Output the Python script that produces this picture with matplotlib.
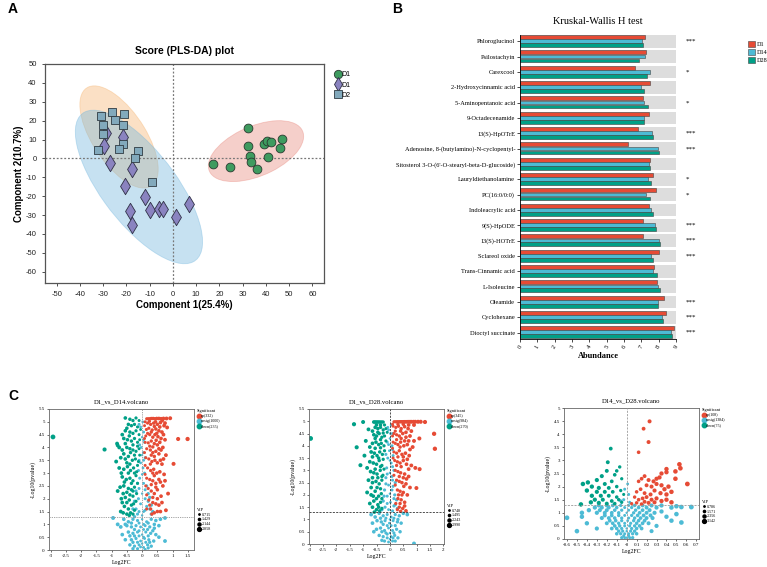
import numpy as np
import matplotlib
matplotlib.use('Agg')
import matplotlib.pyplot as plt
from matplotlib.patches import Ellipse, Patch
from matplotlib.lines import Line2D
from matplotlib.transforms import Bbox

plt.rcParams['axes.unicode_minus'] = False

# ---------------- panel A data (PLS-DA scores) ----------------
d1_x = [32.1, 32.1, 17.1, 24.6, 33.3, 33.7, 36.0, 39.3, 40.6, 42.0, 46.9, 46.0, 41.0]
d1_y = [16.1, 6.4, -3.0, -4.6, 1.4, -1.9, -5.7, 7.6, 9.0, 8.5, 10.1, 5.7, 0.5]
d14_x = [-28.9, -29.7, -21.4, -26.9, -17.4, -20.4, -11.9, -18.6, -9.7, -6.0, -4.3, -17.4, 1.4, 6.9]
d14_y = [13.3, 6.4, 11.3, -2.3, -5.7, -14.8, -20.5, -28.1, -27.4, -26.7, -26.7, -35.5, -31.1, -24.0]
d28_x = [-30.7, -26.0, -21.1, -24.7, -30.1, -21.4, -30.0, -21.4, -32.1, -23.3, -15.0, -16.4, -8.9]
d28_y = [22.4, 24.4, 23.7, 20.3, 17.8, 17.5, 12.9, 7.8, 4.6, 4.8, 4.1, 0.0, -12.7]
groups = ['D1', 'D14', 'D28']

# ---------------- panel B data (Kruskal-Wallis) ----------------
metabolites = ['Phloroglucinol', 'Psilostachyin', 'Carexcool', '2-Hydroxycinnamic acid',
               '5-Aminopentanoic acid', '9-Octadecenamide', '13(S)-HpOTrE',
               'Adenosine, 8-(butylamino)-N-cyclopentyl-',
               "Sitosterol 3-O-(6'-O-stearyl-beta-D-glucoside)", 'Lauryldiethanolamine',
               'PC(16:0/0:0)', 'Indoleacrylic acid', '9(S)-HpODE', '13(S)-HOTrE',
               'Sclareol oxide', 'Trans-Cinnamic acid', 'L-Isoleucine', 'Oleamide',
               'Cyclohexane', 'Dioctyl succinate']
abund_d1 = [7.23, 7.26, 6.63, 7.50, 7.09, 7.46, 6.80, 6.22, 7.51, 7.67, 7.84, 7.46, 7.09,
            7.09, 8.02, 7.75, 7.90, 8.30, 8.42, 8.86]
abund_d14 = [7.03, 7.21, 7.50, 6.96, 7.15, 7.15, 7.61, 7.96, 7.44, 7.38, 7.26, 7.53, 7.78,
             8.02, 7.57, 7.69, 7.96, 7.94, 8.19, 8.69]
abund_d28 = [7.11, 6.88, 7.32, 7.15, 7.40, 7.15, 7.67, 8.02, 7.50, 7.53, 7.51, 7.67, 7.84,
             8.09, 7.65, 7.92, 8.05, 7.94, 8.25, 8.77]
signif = ['***', '', '*', '', '*', '', '***', '***', '', '*', '*', '', '***', '***', '***',
          '', '', '***', '***', '***']

# ---------------- panel C data (volcano plots, (log2FC, -log10 p)) ----------------
v1_up = [(0.15, 5.12), (0.2, 5.12), (0.25, 5.12), (0.3, 5.13), (0.36, 5.13), (0.42, 5.12),
         (0.48, 5.13), (0.55, 5.13), (0.62, 5.12), (0.7, 5.13), (0.8, 5.13), (0.92, 5.14),
         (0.18, 4.95), (0.28, 4.9), (0.38, 4.95), (0.5, 4.9), (0.6, 4.97), (0.72, 4.85),
         (0.82, 4.78), (0.14, 4.7), (0.22, 4.75), (0.33, 4.68), (0.45, 4.72), (0.55, 4.65),
         (0.65, 4.6), (0.12, 4.45), (0.25, 4.5), (0.35, 4.4), (0.42, 4.5), (0.52, 4.42),
         (0.62, 4.35), (0.75, 4.3), (1.18, 4.33), (1.49, 4.33), (0.1, 4.2), (0.2, 4.18),
         (0.3, 4.25), (0.4, 4.15), (0.5, 4.1), (0.58, 4.2), (0.68, 4.0), (0.15, 3.95),
         (0.27, 3.9), (0.35, 3.8), (0.45, 3.85), (0.55, 3.75), (0.62, 3.9), (0.78, 3.7),
         (0.12, 3.6), (0.22, 3.55), (0.32, 3.45), (0.42, 3.5), (0.5, 3.4), (0.65, 3.35),
         (1.03, 3.36), (0.18, 3.2), (0.28, 3.1), (0.38, 3.15), (0.48, 3.0), (0.58, 3.05),
         (0.72, 2.95), (0.15, 2.8), (0.25, 2.75), (0.35, 2.7), (0.45, 2.6), (0.55, 2.75),
         (0.68, 2.5), (0.2, 2.4), (0.3, 2.3), (0.4, 2.2), (0.5, 2.35), (0.62, 2.1),
         (0.85, 2.2), (0.22, 1.95), (0.35, 1.85), (0.45, 1.8), (0.55, 1.75), (0.78, 1.55),
         (0.28, 1.6), (0.4, 1.45), (0.5, 1.5),
         (0.1, 5.0), (0.24, 5.02), (0.44, 5.0), (0.66, 5.05), (0.75, 4.95), (0.08, 4.85),
         (0.4, 4.82), (0.58, 4.8), (0.3, 4.6), (0.48, 4.55), (0.18, 4.55), (0.7, 4.5),
         (0.08, 4.35), (0.46, 4.28), (0.25, 4.05), (0.35, 4.02), (0.55, 3.95), (0.08, 3.8),
         (0.3, 3.7), (0.4, 3.65), (0.7, 3.55), (0.27, 3.35), (0.6, 3.5), (0.1, 3.3),
         (0.35, 3.0), (0.1, 2.95), (0.4, 2.9), (0.3, 2.55), (0.6, 2.65), (0.12, 2.5),
         (0.45, 2.45), (0.75, 2.7), (0.35, 2.05), (0.15, 2.15), (0.5, 2.0), (0.25, 1.75),
         (0.65, 1.85), (0.15, 1.6), (0.32, 1.4), (0.6, 1.5)]
v1_down = [(-2.92, 4.41), (-1.23, 3.92), (-0.82, 4.15), (-0.8, 4.08), (-0.55, 5.15), (-0.2, 5.15),
           (-0.3, 5.05), (-0.45, 4.9), (-0.35, 4.85), (-0.25, 4.9), (-0.15, 4.8), (-0.55, 4.65),
           (-0.4, 4.6), (-0.3, 4.55), (-0.2, 4.65), (-0.1, 4.5), (-0.6, 4.35), (-0.48, 4.3),
           (-0.35, 4.25), (-0.25, 4.35), (-0.15, 4.2), (-0.65, 3.9), (-0.5, 4.0), (-0.4, 3.95),
           (-0.3, 3.9), (-0.2, 3.85), (-0.1, 3.95), (-0.7, 3.6), (-0.55, 3.55), (-0.45, 3.65),
           (-0.32, 3.5), (-0.22, 3.55), (-0.12, 3.45), (-0.75, 3.2), (-0.6, 3.15), (-0.48, 3.25),
           (-0.38, 3.1), (-0.28, 3.2), (-0.18, 3.05), (-0.65, 2.85), (-0.52, 2.75), (-0.4, 2.8),
           (-0.3, 2.7), (-0.2, 2.9), (-0.72, 2.45), (-0.6, 2.5), (-0.45, 2.4), (-0.35, 2.35),
           (-0.25, 2.45), (-0.68, 2.0), (-0.55, 2.05), (-0.42, 1.95), (-0.3, 2.1), (-0.2, 1.9),
           (-0.58, 1.7), (-0.45, 1.6), (-0.35, 1.75), (-0.25, 1.55), (-0.5, 1.4), (-0.38, 1.45),
           (-0.4, 5.1), (-0.1, 5.05), (-0.5, 4.75), (-0.05, 4.7), (-0.65, 4.5), (-0.42, 4.45),
           (-0.08, 4.3), (-0.3, 4.1), (-0.55, 4.15), (-0.75, 4.0), (-0.15, 4.05), (-0.6, 3.75),
           (-0.38, 3.8), (-0.25, 3.7), (-0.08, 3.7), (-0.85, 3.45), (-0.5, 3.4), (-0.4, 3.35),
           (-0.15, 3.3), (-0.68, 3.0), (-0.45, 3.0), (-0.25, 3.0), (-0.58, 2.65), (-0.35, 2.6),
           (-0.15, 2.6), (-0.8, 2.3), (-0.5, 2.25), (-0.3, 2.3), (-0.62, 2.2), (-0.4, 2.15),
           (-0.18, 2.2), (-0.65, 1.85), (-0.5, 1.85), (-0.28, 1.8), (-0.7, 1.5), (-0.42, 1.35),
           (-0.3, 1.4), (-0.62, 1.45)]
v1_nosig = [(0.02, 5.0), (-0.05, 4.8), (0.05, 4.6), (0.0, 4.4), (0.08, 4.2), (-0.03, 4.0),
            (0.04, 3.8), (0.1, 3.6), (-0.05, 3.4), (0.03, 3.2), (0.08, 3.0), (-0.08, 2.8),
            (0.05, 2.6), (0.15, 2.5), (-0.1, 2.4), (0.2, 2.2), (0.0, 2.2), (-0.12, 2.0),
            (0.1, 2.0), (0.2, 1.9), (-0.05, 1.8), (0.15, 1.7), (-0.2, 1.6), (0.25, 1.6),
            (0.05, 1.5), (-0.15, 1.4), (0.3, 1.4), (0.0, 1.35), (-0.95, 1.25), (-0.8, 1.0),
            (-0.6, 1.2), (-0.45, 1.1), (-0.3, 1.2), (-0.15, 1.15), (0.0, 1.2), (0.15, 1.1),
            (0.3, 1.2), (0.45, 1.15), (0.6, 1.2), (0.75, 1.25), (-0.7, 0.9), (-0.5, 0.95),
            (-0.35, 0.9), (-0.2, 0.95), (-0.05, 0.9), (0.1, 0.95), (0.25, 0.9), (0.4, 0.85),
            (0.55, 0.95), (-0.65, 0.6), (-0.45, 0.7), (-0.3, 0.65), (-0.15, 0.7), (0.0, 0.6),
            (0.12, 0.7), (0.28, 0.65), (0.45, 0.6), (-0.55, 0.4), (-0.35, 0.4), (-0.2, 0.45),
            (-0.05, 0.35), (0.08, 0.45), (0.22, 0.4), (0.38, 0.35), (0.75, 0.35), (-0.4, 0.2),
            (-0.25, 0.15), (-0.1, 0.2), (0.05, 0.1), (0.18, 0.2), (0.3, 0.15), (-0.15, 0.05),
            (0.1, 0.02), (-0.25, 1.3),
            (-0.1, 4.9), (0.05, 4.3), (-0.08, 4.1), (0.0, 3.7), (-0.1, 3.5), (0.05, 3.5),
            (-0.12, 3.1), (0.0, 2.95), (-0.15, 2.6), (0.1, 2.35), (-0.2, 2.3), (0.25, 2.05),
            (-0.25, 1.9), (0.3, 1.75), (-0.3, 1.6), (0.1, 1.55), (-0.1, 1.5), (0.35, 1.5),
            (-0.35, 1.05), (-0.1, 1.05), (0.05, 1.0), (0.2, 1.05), (-0.25, 0.8), (-0.1, 0.75),
            (0.05, 0.8), (0.18, 0.8), (0.35, 0.75), (-0.4, 0.55), (-0.25, 0.55), (-0.1, 0.55),
            (0.05, 0.5), (0.2, 0.55), (-0.3, 0.3), (-0.15, 0.3), (0.0, 0.25), (0.12, 0.3),
            (0.25, 0.3), (-0.05, 0.12), (0.2, 0.08), (-0.3, 0.05), (0.4, 1.0), (0.55, 0.5),
            (-0.55, 1.0)]

v2_up = [(0.15, 4.98), (0.2, 4.98), (0.25, 4.98), (0.3, 4.98), (0.35, 4.98), (0.4, 4.98),
         (0.45, 4.98), (0.5, 4.98), (0.55, 4.98), (0.6, 4.98), (0.65, 4.98), (0.7, 4.98),
         (0.75, 4.98), (0.8, 4.98), (0.88, 4.98), (0.95, 4.98), (1.05, 4.98), (1.15, 4.98),
         (1.31, 4.97), (0.12, 4.8), (0.22, 4.75), (0.32, 4.8), (0.42, 4.7), (0.55, 4.78),
         (0.68, 4.7), (0.8, 4.6), (1.1, 4.3), (1.65, 4.49), (0.15, 4.5), (0.25, 4.45),
         (0.35, 4.4), (0.48, 4.5), (0.6, 4.35), (0.75, 4.4), (0.9, 4.2), (0.12, 4.15),
         (0.2, 4.1), (0.3, 4.05), (0.4, 4.15), (0.52, 4.0), (0.65, 4.05), (0.85, 3.95),
         (1.68, 3.88), (0.15, 3.75), (0.25, 3.7), (0.35, 3.8), (0.45, 3.65), (0.58, 3.7),
         (0.72, 3.6), (0.18, 3.4), (0.28, 3.35), (0.38, 3.3), (0.5, 3.4), (0.62, 3.25),
         (0.8, 3.2), (1.11, 3.05), (0.95, 3.1), (0.2, 3.0), (0.3, 2.95), (0.4, 2.9),
         (0.55, 2.85), (0.7, 2.75), (0.25, 2.6), (0.35, 2.55), (0.45, 2.5), (0.6, 2.45),
         (0.99, 2.28), (0.28, 2.2), (0.38, 2.15), (0.5, 2.1), (0.65, 2.0), (0.3, 1.85),
         (0.42, 1.8), (0.55, 1.7), (0.35, 1.5), (0.48, 1.45), (0.6, 1.35), (0.4, 1.33),
         (0.1, 4.88), (0.3, 4.88), (0.5, 4.88), (0.7, 4.85), (0.9, 4.85), (0.2, 4.6),
         (0.4, 4.6), (0.6, 4.55), (0.1, 4.4), (0.42, 4.3), (0.7, 4.2), (0.25, 4.25),
         (0.55, 4.2), (0.1, 3.9), (0.38, 3.95), (0.75, 3.85), (0.3, 3.55), (0.5, 3.55),
         (0.65, 3.45), (0.12, 3.5), (0.42, 3.15), (0.25, 3.2), (0.7, 3.05), (0.15, 2.8),
         (0.5, 2.7), (0.62, 2.65), (0.35, 2.75), (0.2, 2.4), (0.52, 2.35), (0.75, 2.3),
         (0.32, 2.0), (0.45, 2.0), (0.22, 1.65), (0.55, 1.55), (0.38, 1.65), (0.28, 1.4)]
v2_down = [(-2.96, 4.3), (-1.34, 4.88), (-1.0, 4.97), (-1.24, 3.94), (-1.1, 3.21), (-0.8, 4.67),
           (-0.6, 4.97), (-0.55, 4.97), (-0.5, 4.97), (-0.45, 4.97), (-0.4, 4.97), (-0.35, 4.97),
           (-0.3, 4.97), (-0.25, 4.97), (-0.55, 4.75), (-0.45, 4.7), (-0.35, 4.75), (-0.25, 4.65),
           (-0.15, 4.7), (-0.6, 4.45), (-0.5, 4.4), (-0.4, 4.5), (-0.3, 4.35), (-0.2, 4.4),
           (-0.9, 4.2), (-0.65, 4.1), (-0.52, 4.15), (-0.42, 4.05), (-0.32, 4.1), (-0.22, 4.0),
           (-0.95, 3.6), (-0.7, 3.75), (-0.58, 3.7), (-0.48, 3.6), (-0.38, 3.75), (-0.28, 3.65),
           (-0.75, 3.35), (-0.62, 3.3), (-0.5, 3.25), (-0.4, 3.4), (-0.3, 3.2), (-0.72, 2.95),
           (-0.6, 2.9), (-0.48, 2.85), (-0.36, 3.0), (-0.26, 2.8), (-0.8, 2.6), (-0.65, 2.5),
           (-0.52, 2.55), (-0.4, 2.45), (-0.3, 2.6), (-0.85, 2.1), (-0.7, 2.0), (-0.55, 2.15),
           (-0.42, 1.95), (-0.32, 2.05), (-0.75, 1.65), (-0.6, 1.75), (-0.45, 1.6), (-0.35, 1.7),
           (-0.5, 1.4), (-0.38, 1.35), (-0.58, 1.3),
           (-0.5, 4.85), (-0.35, 4.85), (-0.2, 4.85), (-0.65, 4.6), (-0.45, 4.55), (-0.25, 4.52),
           (-0.1, 4.55), (-0.55, 4.3), (-0.35, 4.25), (-0.15, 4.2), (-0.75, 3.95), (-0.55, 3.9),
           (-0.35, 3.92), (-0.2, 3.8), (-0.65, 3.55), (-0.42, 3.5), (-0.25, 3.45), (-0.85, 3.1),
           (-0.55, 3.05), (-0.35, 3.15), (-0.22, 3.05), (-0.65, 2.7), (-0.45, 2.7), (-0.3, 2.75),
           (-0.7, 2.3), (-0.48, 2.3), (-0.35, 2.25), (-0.62, 1.95), (-0.5, 1.85), (-0.3, 1.85),
           (-0.65, 1.5), (-0.42, 1.5), (-0.3, 1.45)]
v2_nosig = [(0.05, 4.85), (-0.05, 4.65), (0.1, 4.5), (0.0, 4.3), (-0.1, 4.15), (0.08, 4.0),
            (-0.02, 3.8), (0.12, 3.6), (-0.08, 3.5), (0.05, 3.3), (-0.12, 3.1), (0.15, 3.0),
            (0.0, 2.9), (-0.15, 2.7), (0.1, 2.6), (0.2, 2.5), (-0.05, 2.4), (-0.2, 2.2),
            (0.08, 2.2), (0.18, 2.0), (-0.1, 1.95), (0.25, 1.8), (-0.25, 1.75), (0.02, 1.7),
            (0.15, 1.55), (-0.18, 1.5), (0.28, 1.45), (-0.05, 1.4), (-0.7, 1.2), (-0.55, 1.1),
            (-0.4, 1.25), (-0.25, 1.15), (-0.1, 1.2), (0.05, 1.1), (0.2, 1.2), (0.35, 1.15),
            (0.5, 1.25), (0.65, 1.2), (-0.65, 0.85), (-0.48, 0.95), (-0.32, 0.9), (-0.18, 0.95),
            (-0.02, 0.85), (0.12, 0.95), (0.28, 0.9), (0.42, 0.85), (-0.5, 0.6), (-0.35, 0.65),
            (-0.2, 0.55), (-0.05, 0.65), (0.1, 0.55), (0.25, 0.6), (0.38, 0.5), (-0.4, 0.35),
            (-0.25, 0.3), (-0.1, 0.4), (0.05, 0.3), (0.18, 0.35), (0.3, 0.25), (-0.2, 0.12),
            (-0.05, 0.08), (0.1, 0.12), (0.9, 0.02),
            (-0.08, 4.75), (0.02, 4.5), (-0.05, 4.05), (0.1, 3.85), (-0.15, 3.65), (0.0, 3.4),
            (0.1, 3.15), (-0.1, 2.85), (0.08, 2.75), (-0.15, 2.45), (0.12, 2.35), (0.0, 2.05),
            (-0.22, 1.95), (0.15, 1.85), (-0.1, 1.65), (0.2, 1.6), (-0.3, 1.4), (0.1, 1.35),
            (-0.35, 1.05), (-0.15, 1.05), (0.0, 1.0), (0.15, 1.05), (0.3, 1.0), (-0.25, 0.8),
            (-0.1, 0.75), (0.05, 0.75), (0.2, 0.75), (-0.3, 0.5), (-0.15, 0.45), (0.0, 0.45),
            (0.15, 0.45), (-0.1, 0.25), (0.0, 0.2), (0.12, 0.25), (-0.3, 0.15), (0.2, 0.12),
            (-0.6, 0.5)]

v3_up = [(0.23, 4.49), (0.17, 4.21), (0.22, 3.70), (0.12, 3.31), (0.49, 2.58), (0.53, 2.85),
         (0.54, 2.7), (0.4, 2.67), (0.4, 2.55), (0.49, 2.3), (0.61, 2.1), (0.35, 2.5),
         (0.33, 2.35), (0.3, 2.3), (0.27, 2.2), (0.22, 2.25), (0.18, 2.4), (0.15, 2.3),
         (0.12, 2.2), (0.2, 2.05), (0.25, 2.0), (0.3, 2.1), (0.35, 2.05), (0.38, 1.9),
         (0.42, 2.0), (0.45, 1.8), (0.4, 1.7), (0.34, 1.75), (0.28, 1.85), (0.24, 1.7),
         (0.18, 1.75), (0.14, 1.9), (0.1, 1.8), (0.08, 1.6), (0.12, 1.5), (0.16, 1.55),
         (0.2, 1.6), (0.25, 1.5), (0.3, 1.55), (0.35, 1.45), (0.28, 1.4), (0.22, 1.38),
         (0.18, 1.42), (0.1, 1.38), (0.05, 1.35), (0.15, 1.33), (0.4, 1.5), (0.45, 1.4)]
v3_down = [(-0.16, 3.45), (-0.19, 2.93), (-0.39, 2.16), (-0.44, 2.1), (-0.25, 2.4), (-0.07, 2.75),
           (-0.46, 1.32), (-0.1, 2.6), (-0.2, 2.6), (-0.12, 2.45), (-0.3, 2.25), (-0.15, 2.2),
           (-0.05, 2.3), (-0.22, 2.1), (-0.35, 2.0), (-0.28, 1.95), (-0.18, 1.95), (-0.1, 2.0),
           (-0.4, 1.85), (-0.3, 1.8), (-0.22, 1.8), (-0.14, 1.8), (-0.06, 1.85), (-0.35, 1.65),
           (-0.26, 1.65), (-0.18, 1.65), (-0.1, 1.6), (-0.03, 1.7), (-0.32, 1.5), (-0.24, 1.5),
           (-0.15, 1.45), (-0.08, 1.5), (-0.28, 1.38), (-0.2, 1.35), (-0.12, 1.35), (-0.05, 1.4),
           (-0.36, 1.4)]
v3_nosig = [(-0.05, 0.05), (-0.02, 0.05), (0.0, 0.05), (0.03, 0.05), (0.06, 0.05),
            (-0.1, 0.2), (-0.06, 0.2), (-0.02, 0.2), (0.02, 0.2), (0.06, 0.2), (0.1, 0.2),
            (-0.15, 0.4), (-0.1, 0.4), (-0.05, 0.4), (0.0, 0.4), (0.05, 0.4), (0.1, 0.4), (0.15, 0.4),
            (-0.2, 0.6), (-0.14, 0.6), (-0.08, 0.6), (-0.02, 0.6), (0.04, 0.6), (0.1, 0.6),
            (0.16, 0.6), (0.22, 0.6), (-0.25, 0.8), (-0.18, 0.8), (-0.12, 0.8), (-0.05, 0.8),
            (0.02, 0.8), (0.08, 0.8), (0.14, 0.8), (0.2, 0.8), (0.26, 0.8), (-0.3, 1.0),
            (-0.22, 1.0), (-0.15, 1.0), (-0.08, 1.0), (0.0, 1.0), (0.07, 1.0), (0.13, 1.0),
            (0.2, 1.0), (0.28, 1.0), (-0.32, 1.2), (-0.25, 1.2), (-0.18, 1.2), (-0.1, 1.2),
            (-0.02, 1.2), (0.05, 1.2), (0.12, 1.2), (0.2, 1.2), (0.3, 1.2), (-0.03, 1.5),
            (0.02, 1.7), (-0.02, 1.9), (0.01, 2.1), (0.03, 1.4), (-0.06, 1.45), (-0.6, 0.81),
            (-0.5, 0.3), (-0.45, 1.0), (-0.45, 0.85), (-0.4, 0.6), (-0.38, 1.1), (-0.3, 0.4),
            (0.65, 1.22), (0.55, 1.22), (0.5, 1.25), (0.5, 0.95), (0.55, 0.63), (0.45, 0.7),
            (0.35, 1.05), (0.4, 0.85), (0.3, 0.5), (0.25, 0.3), (0.45, 1.2),
            (-0.03, 0.12), (0.02, 0.12), (-0.08, 0.3), (-0.04, 0.3), (0.0, 0.3), (0.04, 0.3),
            (0.08, 0.3), (-0.12, 0.5), (-0.07, 0.5), (-0.02, 0.5), (0.03, 0.5), (0.08, 0.5),
            (0.13, 0.5), (-0.17, 0.7), (-0.11, 0.7), (-0.05, 0.7), (0.01, 0.7), (0.07, 0.7),
            (0.12, 0.7), (0.18, 0.7), (-0.22, 0.9), (-0.15, 0.9), (-0.08, 0.9), (-0.02, 0.9),
            (0.05, 0.9), (0.11, 0.9), (0.17, 0.9), (0.24, 0.9), (-0.27, 1.1), (-0.2, 1.1),
            (-0.12, 1.1), (-0.05, 1.1), (0.02, 1.1), (0.09, 1.1), (0.16, 1.1), (0.23, 1.1),
            (-0.28, 1.28), (-0.2, 1.28), (-0.14, 1.28), (-0.06, 1.28), (0.02, 1.28), (0.08, 1.28),
            (0.16, 1.28), (0.25, 1.28), (0.35, 1.28)]

v1_sig_labels = ['up(332)', 'nosig(1000)', 'down(235)']
v2_sig_labels = ['up(345)', 'nosig(984)', 'down(270)']
v3_sig_labels = ['up(108)', 'nosig(1384)', 'down(75)']
v1_vip = ['0.715', '1.429', '2.144', '2.858']
v2_vip = ['0.748', '1.495', '2.243', '2.990']
v3_vip = ['0.786', '1.571', '2.356', '3.142']

RED, BLUE, GREEN = '#E64B35', '#4DBBD5', '#00A087'

fig = plt.figure(figsize=(7.67, 5.67), dpi=100)
W, H = 767, 567


def px_rect(l, t, r, b):
    return [l / W, 1 - b / H, (r - l) / W, (b - t) / H]


# ================= A =================
sans = 'Liberation Sans'
axA = fig.add_axes(px_rect(45, 64, 324, 283))


def conf_ellipse(ax, x, y, color):
    # 95% confidence ellipse of each group
    cov = np.cov(x, y)
    vals, vecs = np.linalg.eigh(cov)
    order = vals.argsort()[::-1]
    vals, vecs = vals[order], vecs[:, order]
    ang = np.degrees(np.arctan2(vecs[1, 0], vecs[0, 0]))
    k = 2.448
    ax.add_patch(Ellipse((np.mean(x), np.mean(y)), 2 * k * np.sqrt(vals[0]),
                         2 * k * np.sqrt(vals[1]), angle=ang, facecolor=color,
                         edgecolor=color, alpha=0.4, lw=0.6, zorder=1))


conf_ellipse(axA, d28_x, d28_y, '#F6B36E')
conf_ellipse(axA, d14_x, d14_y, '#72B6DE')
conf_ellipse(axA, d1_x, d1_y, '#E8877C')
axA.axvline(0, color='#777777', ls=(0, (1.5, 1.5)), lw=0.9, zorder=2)
axA.axhline(0, color='#777777', ls=(0, (1.5, 1.5)), lw=0.9, zorder=2)
styles = [('o', 40, '#3E9B5F', '#2A3A30'), ('d', 70, '#8A83C0', '#2F2F45'), ('s', 40, '#82A9BC', '#2F3A42')]
for (xs, ys), (mk, sz, fc, ec), g in zip([(d1_x, d1_y), (d14_x, d14_y), (d28_x, d28_y)], styles, groups):
    axA.scatter(xs, ys, s=sz, marker=mk, color=fc, edgecolor=ec, lw=0.6, zorder=3, label=g)
axA.set_xlim(-55, 65)
axA.set_ylim(-66, 50)
axA.set_xticks(np.arange(-50, 61, 10))
axA.set_yticks(np.arange(-60, 51, 10))
axA.tick_params(labelsize=5.5, length=2.5, width=0.6, colors='#333333', labelcolor='#222222')
for lab in axA.get_xticklabels() + axA.get_yticklabels():
    lab.set_family(sans)
for sp in axA.spines.values():
    sp.set_color('#555555')
    sp.set_linewidth(0.9)
axA.set_title('Score (PLS-DA) plot', fontsize=7.5, fontweight='bold', family=sans, pad=7)
axA.set_xlabel('Component 1(25.4%)', fontsize=7, fontweight='bold', family=sans, labelpad=1)
axA.set_ylabel('Component 2(10.7%)', fontsize=7, fontweight='bold', family=sans, labelpad=1)
legA = fig.legend(handles=[Line2D([], [], marker=mk, ls='', ms=(6 if mk != 'd' else 7), color=fc, mec=ec, mew=0.6)
                           for mk, sz, fc, ec in styles],
                  labels=groups, loc='upper left', bbox_to_anchor=(330 / W, 1 - 68 / H),
                  frameon=False, handletextpad=0.0, labelspacing=0.45, borderpad=0, handlelength=1.2,
                  prop={'family': sans, 'size': 5})
# the reference cuts the group names at the panel edge
clip = Bbox([[0, 0], [350, H]])
for t in legA.get_texts():
    t.set_clip_on(True)
    t.set_clip_box(clip)

# ================= B =================
serif = 'Liberation Serif'
axB = fig.add_axes(px_rect(520, 35, 676, 339))
n = len(metabolites)
yy = np.arange(n)
axB.barh(yy, [9] * n, height=0.83, color='#DDDDDD', zorder=0)
axB.barh(yy - 0.285, abund_d1, height=0.25, color=RED, edgecolor='#444444', lw=0.4, zorder=2)
axB.barh(yy - 0.015, abund_d14, height=0.25, color=BLUE, edgecolor='#444444', lw=0.4, zorder=2)
axB.barh(yy + 0.245, abund_d28, height=0.25, color=GREEN, edgecolor='#444444', lw=0.4, zorder=2)
axB.set_ylim(n - 1 + 0.415, -0.415)
axB.set_xlim(0, 9)
axB.set_yticks(yy)
axB.set_yticklabels(metabolites, family=serif, fontsize=4.6)
axB.set_xticks(range(10))
axB.set_xticklabels([str(i) for i in range(10)], rotation=60, family=serif, fontsize=4.8)
axB.tick_params(length=2, width=0.5, pad=1.5)
axB.spines['top'].set_visible(False)
axB.spines['right'].set_visible(False)
axB.spines['left'].set_linewidth(0.6)
axB.spines['bottom'].set_linewidth(0.6)
for i, s in enumerate(signif):
    axB.text(9.55, i, s, fontsize=5, family=serif, va='center', ha='left', clip_on=False)
axB.set_title('Kruskal-Wallis H test', fontsize=7.5, family=serif, pad=8)
axB.set_xlabel('Abundance', fontsize=6, family=serif, fontweight='bold', labelpad=2)
fig.legend(handles=[Patch(facecolor=c, edgecolor='#444444', lw=0.4) for c in (RED, BLUE, GREEN)],
           labels=groups, loc='upper left', bbox_to_anchor=(745 / W, 1 - 38 / H),
           frameon=False, prop={'family': serif, 'size': 4.5}, handlelength=1.1, handleheight=1.1,
           handletextpad=0.3, labelspacing=0.3, borderpad=0)


# ================= C =================
def volcano(rect, title, up, nosig, down, xlim, ylim, xticks, yticks, sig_labels, vip_labels, hl_color, hl_ls):
    ax = fig.add_axes(rect)
    allx = max(abs(p[0]) for p in up + down + nosig)
    for pts, col in ((nosig, BLUE), (down, GREEN), (up, RED)):
        x = np.array([p[0] for p in pts])
        y = np.array([p[1] for p in pts])
        s = 3 + 9 * np.sqrt(np.abs(x) / allx)
        ax.scatter(x, y, s=s, color=col, lw=0, zorder=2)
    ax.axhline(1.3, color=hl_color, ls=hl_ls, lw=0.6, zorder=3)
    ax.axvline(0, color=hl_color, ls=hl_ls, lw=0.6, zorder=3)
    ax.set_xlim(*xlim)
    ax.set_ylim(*ylim)
    ax.set_xticks(xticks)
    ax.set_xticklabels(['%g' % round(v, 2) for v in xticks], family=serif, fontsize=3.6)
    ax.set_yticks(yticks)
    ax.set_yticklabels(['%g' % round(v, 2) for v in yticks], family=serif, fontsize=3.6)
    ax.tick_params(length=1.5, width=0.4, pad=1.5)
    for sp in ax.spines.values():
        sp.set_linewidth(0.6)
        sp.set_color('#666666')
    ax.set_title(title, fontsize=4.8, family=serif, pad=4)
    ax.set_xlabel('Log2FC', fontsize=4.2, family=serif, labelpad=1)
    ax.set_ylabel('-Log10(pvalue)', fontsize=4.2, family=serif, labelpad=2)
    h_sig = [Line2D([], [], marker='o', ls='', ms=3.2, color=c) for c in (RED, BLUE, GREEN)]
    leg1 = ax.legend(h_sig, sig_labels, title='Significant', loc='upper left',
                     bbox_to_anchor=(1.0, 1.02), frameon=False, prop={'family': serif, 'size': 3},
                     title_fontproperties={'family': serif, 'size': 3.2}, handletextpad=0.1,
                     labelspacing=0.25, borderpad=0.2, handlelength=0.8)
    leg1._legend_box.align = 'left'
    ax.add_artist(leg1)
    h_vip = [Line2D([], [], marker='o', ls='', ms=m, color='black') for m in (1.0, 1.6, 2.2, 2.8)]
    leg2 = ax.legend(h_vip, vip_labels, title='VIP', loc='upper left', bbox_to_anchor=(1.0, 0.32),
                     frameon=False, prop={'family': serif, 'size': 3},
                     title_fontproperties={'family': serif, 'size': 3.2}, handletextpad=0.3,
                     labelspacing=0.2, borderpad=0.2, handlelength=0.8)
    leg2._legend_box.align = 'left'
    return ax


volcano(px_rect(49, 409, 194, 550), 'D1_vs_D14.volcano', v1_up, v1_nosig, v1_down,
        (-3.05, 1.7), (0, 5.5), np.arange(-3, 1.51, 0.5), np.arange(0, 5.51, 0.5),
        v1_sig_labels, v1_vip, '#999999', (0, (1.5, 1.2)))
volcano(px_rect(309, 409, 444, 544), 'D1_vs_D28.volcano', v2_up, v2_nosig, v2_down,
        (-3.02, 2.02), (0, 5.5), np.arange(-3, 2.01, 0.5), np.arange(0, 5.51, 0.5),
        v2_sig_labels, v2_vip, '#333333', (0, (2.5, 1.5)))
volcano(px_rect(564, 408, 699, 539), 'D14_vs_D28.volcano', v3_up, v3_nosig, v3_down,
        (-0.63, 0.727), (0, 5), np.arange(-0.6, 0.71, 0.1), np.arange(0, 5.01, 0.5),
        v3_sig_labels, v3_vip, '#999999', (0, (2.5, 1.5)))

fig.text(8 / W, 1 - 9 / H, 'A', fontsize=10, fontweight='bold', family=sans, va='center')
fig.text(392 / W, 1 - 9 / H, 'B', fontsize=10, fontweight='bold', family=sans, va='center')
fig.text(8 / W, 1 - 396 / H, 'C', fontsize=10, fontweight='bold', family=sans, va='center')

fig.savefig('out.png', dpi=100)
